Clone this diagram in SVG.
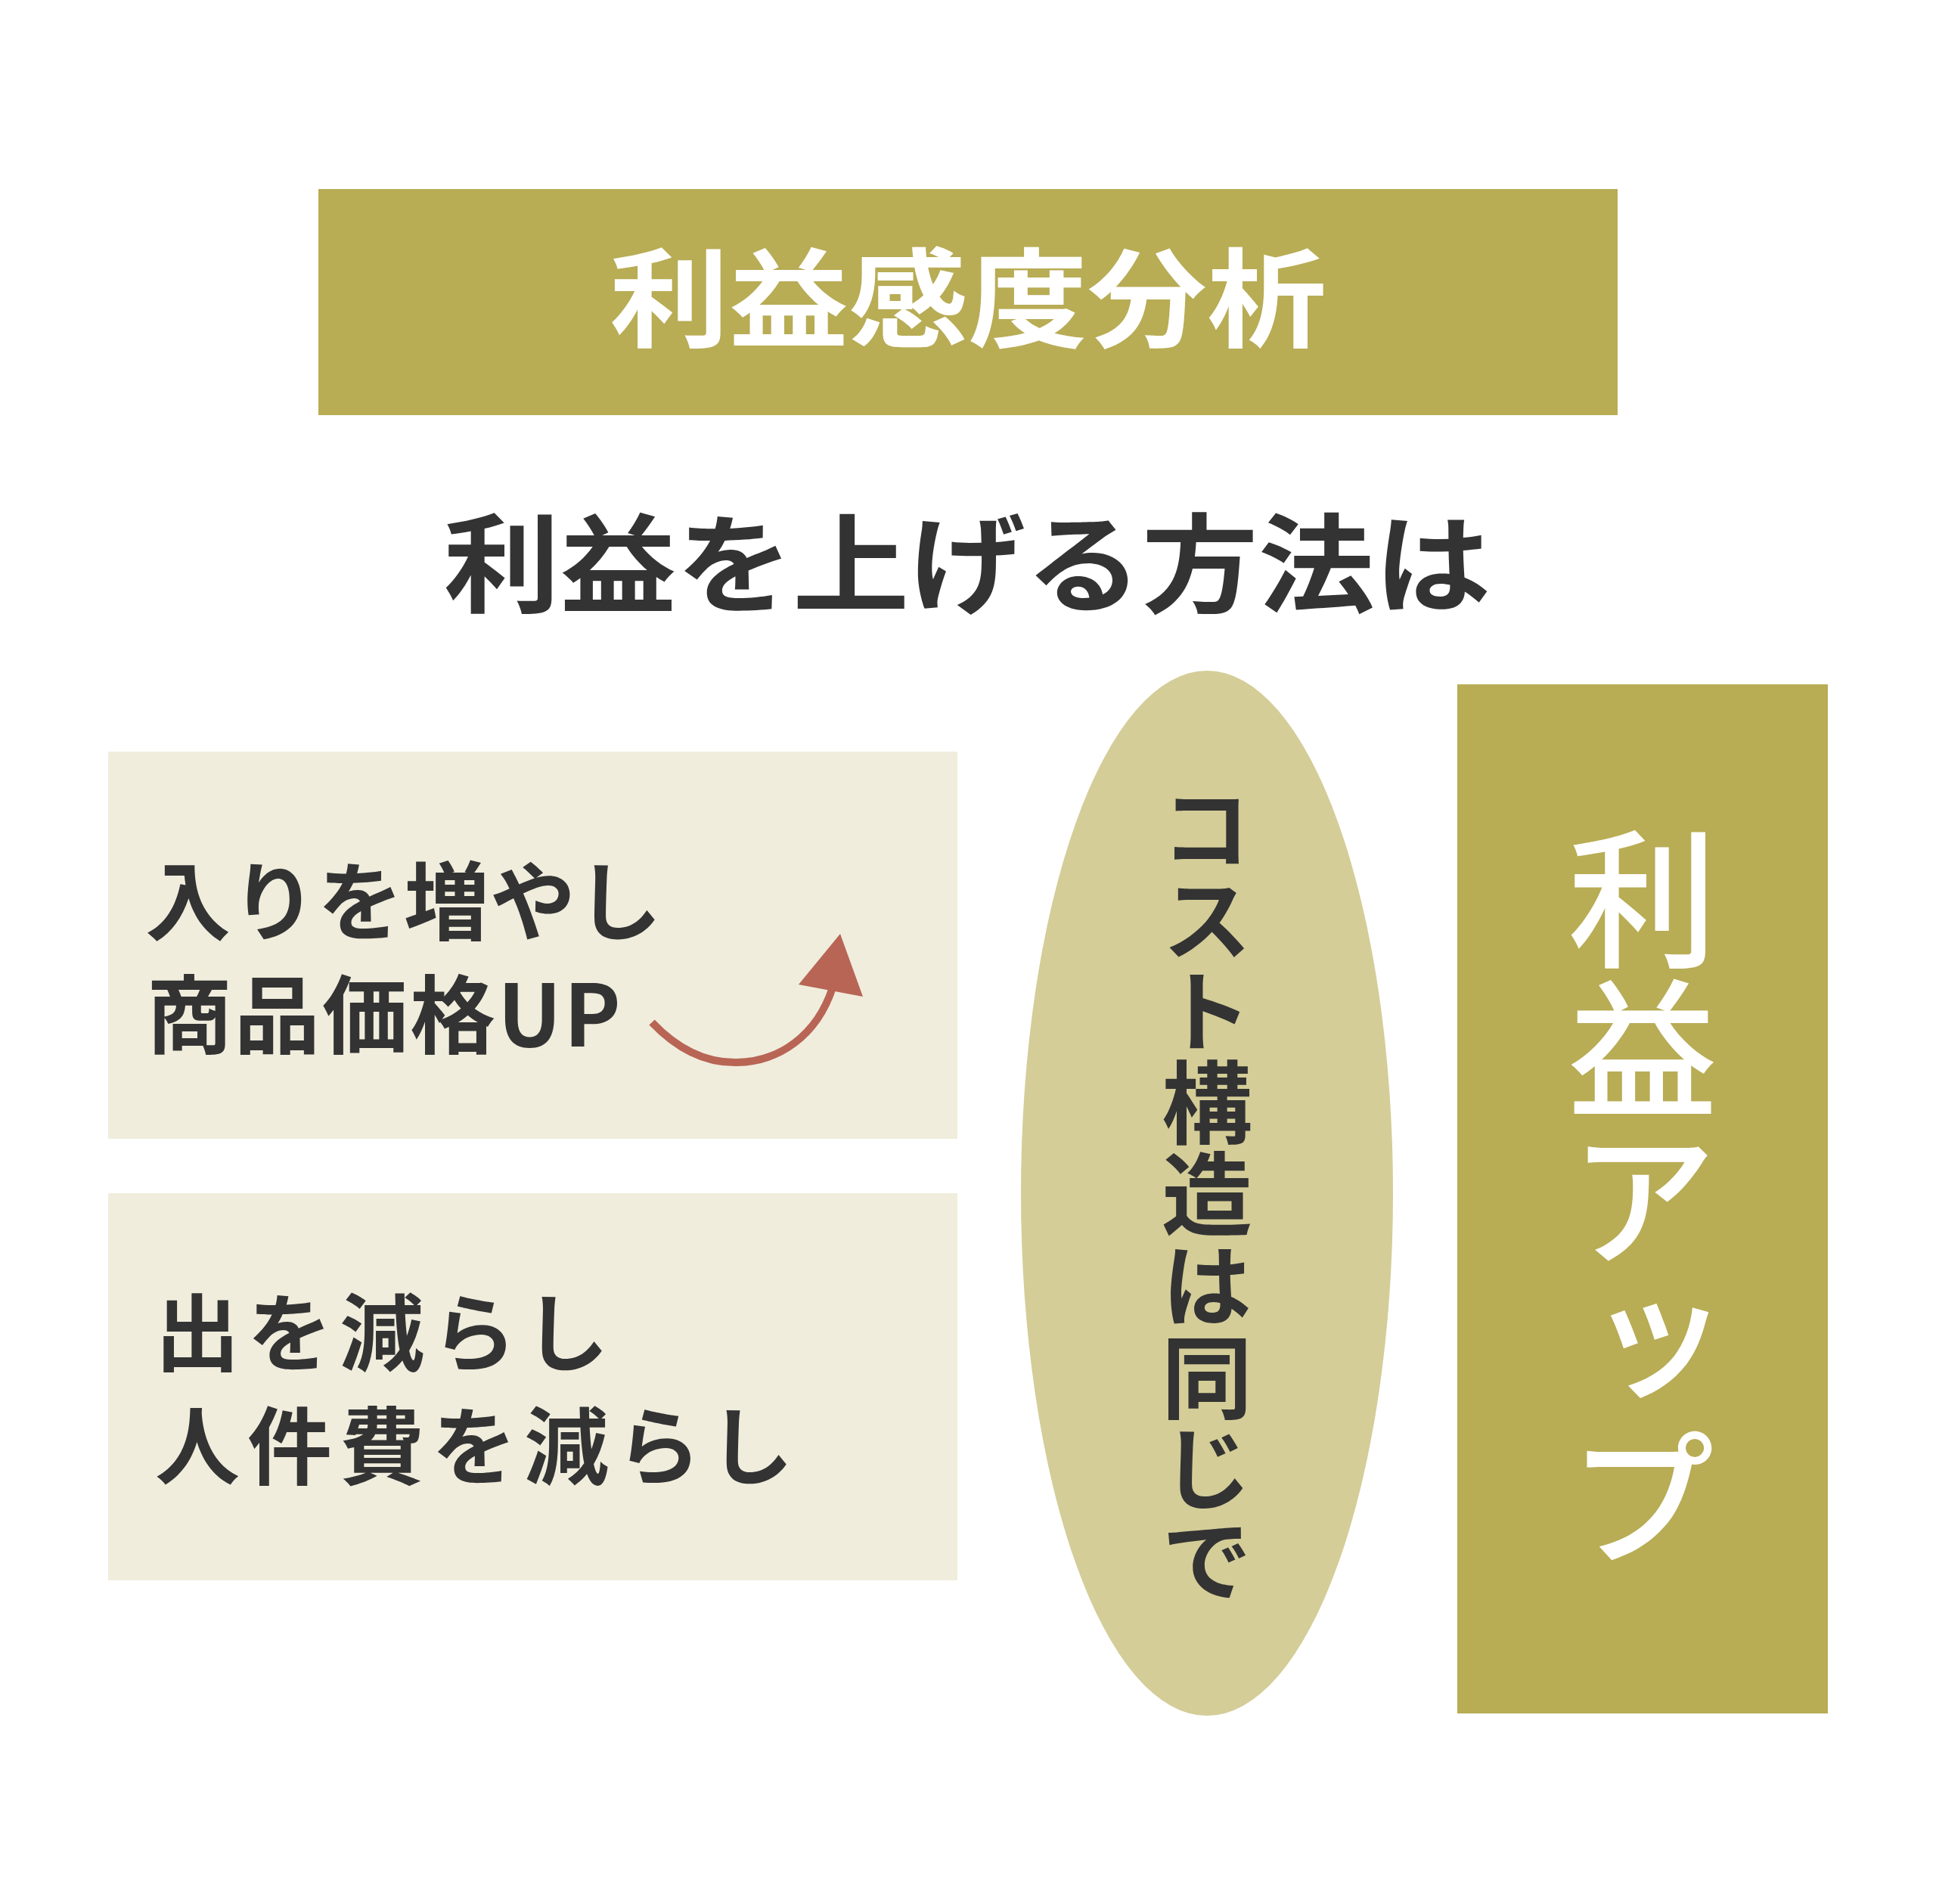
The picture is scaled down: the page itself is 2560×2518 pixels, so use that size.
<svg xmlns="http://www.w3.org/2000/svg" width="2560" height="2518" viewBox="0 0 2560 2518">
<defs>
<style>
.jp{font-family:"Noto Sans CJK JP","Noto Sans CJK SC",sans-serif;font-weight:700}
.dark{fill:#333333}
.white{fill:#ffffff}
.olive{fill:#B8AC55}
.cream{fill:#F0EDDD}
</style>
</defs>
<rect width="2560" height="2518" fill="#ffffff"/>
<g id="title">
<rect class="olive" x="421" y="250" width="1718" height="299"/>
<text class="jp white" x="1280" y="448" font-size="142" text-anchor="middle" textLength="948" lengthAdjust="spacingAndGlyphs">利益感度分析</text>
</g>
<g id="subtitle">
<text class="jp dark" x="1279" y="799" font-size="142" text-anchor="middle" textLength="1385" lengthAdjust="spacingAndGlyphs">利益を上げる方法は</text>
</g>
<g id="increase">
<rect class="cream" x="143" y="994" width="1123" height="512"/>
<text class="jp dark" font-size="113"><tspan x="192" y="1234" letter-spacing="1">入りを増やし</tspan><tspan x="194" y="1384" letter-spacing="3">商品価格UP</tspan></text>
</g>
<g id="decrease">
<rect class="cream" x="143" y="1578" width="1123" height="512"/>
<text class="jp dark" font-size="112" letter-spacing="10"><tspan x="205" y="1805">出を減らし</tspan><tspan x="205" y="1955">人件費を減らし</tspan></text>
</g>
<g id="cost">
<ellipse cx="1596" cy="1578" rx="246" ry="691" fill="#D4CD98"/>
<text class="jp dark" x="1596" y="1580" font-size="120" letter-spacing="1" writing-mode="vertical-rl" text-anchor="middle">コスト構造は同じで</text>
</g>
<g id="profit">
<rect class="olive" x="1927" y="905" width="490" height="1361"/>
<text class="jp white" x="2172" y="1585" font-size="198" writing-mode="vertical-rl" text-anchor="middle" style="font-weight:500">利益アップ</text>
</g>
<g id="connectors">
<path d="M 862 1352 C 900 1392 938 1406 975 1405 C 1030 1404 1080 1370 1101 1306" fill="none" stroke="#B86555" stroke-width="10"/>
<polygon points="1111,1235 1056,1302 1141,1318" fill="#B86555"/>
</g>
</svg>
